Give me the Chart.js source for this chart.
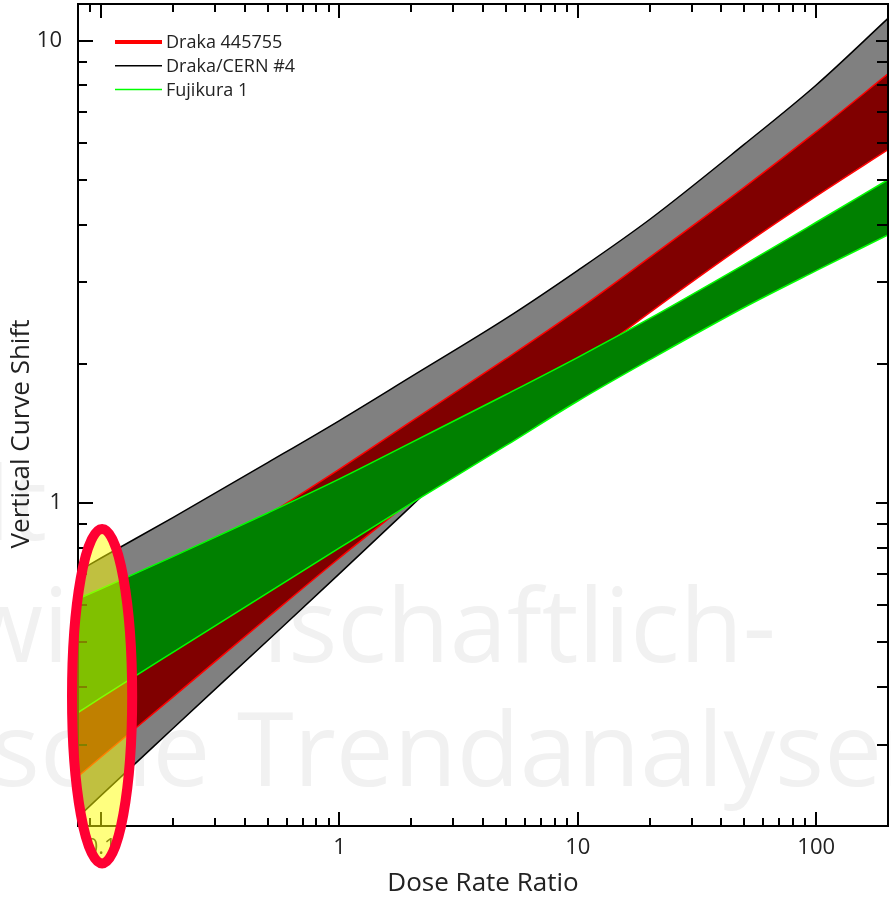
<!DOCTYPE html>
<html>
<head>
<meta charset="utf-8">
<script src="https://cdn.jsdelivr.net/npm/chart.js@4/dist/chart.umd.min.js"></script>
<style>
  html, body { margin: 0; padding: 0; background: #fff; overflow: hidden; }
  #wrap { width: 891px; height: 898px; }
</style>
</head>
<body>
<div id="wrap"><canvas id="c" width="891" height="898"></canvas></div>
<script>
// Dose rate ratio sample points (x axis)
const doseRatio = [0.08, 0.1, 0.2, 0.5, 1, 2, 5, 10, 20, 50, 100, 200];

// Draka/CERN #4 band
const cernUpper = [0.711, 0.760, 0.929, 1.222, 1.507, 1.875, 2.506, 3.184, 4.102, 5.970, 8.017, 11.17];
const cernLower = [0.209, 0.233, 0.325, 0.504, 0.703, 0.984, 1.55, 2.16, 2.95, 4.18, 5.42, 7.05];

// Draka 445755 band
const drakaUpper = [0.528, 0.566, 0.702, 0.941, 1.183, 1.50, 2.051, 2.618, 3.396, 4.819, 6.353, 8.472];
const drakaLower = [0.256, 0.282, 0.380, 0.565, 0.760, 1.012, 1.492, 1.975, 2.58, 3.62, 4.61, 5.81];

// Fujikura 1 band
const fujiUpper = [0.620, 0.652, 0.765, 0.951, 1.127, 1.350, 1.716, 2.065, 2.506, 3.281, 4.046, 5.000];
const fujiLower = [0.352, 0.379, 0.475, 0.639, 0.799, 0.998, 1.331, 1.661, 2.04, 2.65, 3.18, 3.80];

// Axis ticks
const xLabelTicks = [0.1, 1, 10, 100];
const xMinorTicks = [0.09, 0.2, 0.3, 0.4, 0.5, 0.6, 0.7, 0.8, 0.9, 2, 3, 4, 5, 6, 7, 8, 9,
                     20, 30, 40, 50, 60, 70, 80, 90];
const yLabelTicks = [1, 10];
const yMinorTicks = [0.3, 0.4, 0.5, 0.6, 0.7, 0.8, 0.9, 2, 3, 4, 5, 6, 7, 8, 9];

const seriesNames = ['Draka 445755', 'Draka/CERN #4', 'Fujikura 1'];

const FONT = '"Open Sans", "Noto Sans", sans-serif';
const TEXT = '#222222';

function pts(ys) { return doseRatio.map((x, i) => ({ x: x, y: ys[i] })); }

function band(label, upper, lower, fillColor, edgeColor, orderBase) {
  return [
    { label: label, data: pts(upper), fill: '+1', backgroundColor: fillColor,
      borderColor: edgeColor, borderWidth: 1.5, pointRadius: 0,
      cubicInterpolationMode: 'monotone', order: orderBase + 1 },
    { label: label, data: pts(lower), fill: false,
      borderColor: edgeColor, borderWidth: 1.5, pointRadius: 0,
      cubicInterpolationMode: 'monotone', order: orderBase }
  ];
}

// faint background lettering
const backdropPlugin = {
  id: 'backdrop',
  beforeDraw(chart) {
    const ctx = chart.ctx;
    ctx.save();
    ctx.fillStyle = '#f1f1f1';
    ctx.font = '103px ' + FONT;
    ctx.textBaseline = 'alphabetic';
    ctx.textAlign = 'right';
    ctx.fillText('Welt', 47, 540);
    ctx.fillText('wissenschaftlich-', 776, 662);
    ctx.textAlign = 'left';
    const lead = ctx.measureText('technische ').width;
    ctx.fillText('technische Trendanalysen', 237 - lead, 786);
    ctx.restore();
  }
};

// framed axes with inward tick marks, legend and axis titles
const framePlugin = {
  id: 'frame',
  afterDatasetsDraw(chart) {
    const { ctx, chartArea: a, scales: { x, y } } = chart;
    ctx.save();
    ctx.strokeStyle = '#000';
    ctx.lineWidth = 2;
    ctx.strokeRect(a.left, a.top, a.right - a.left, a.bottom - a.top);

    const tick = (x1, y1, x2, y2) => { ctx.beginPath(); ctx.moveTo(x1, y1); ctx.lineTo(x2, y2); ctx.stroke(); };
    xLabelTicks.forEach(v => {
      const p = Math.round(x.getPixelForValue(v));
      tick(p, a.bottom, p, a.bottom - 14);
      tick(p, a.top, p, a.top + 14);
    });
    xMinorTicks.forEach(v => {
      const p = Math.round(x.getPixelForValue(v));
      tick(p, a.bottom, p, a.bottom - 8);
      tick(p, a.top, p, a.top + 8);
    });
    yLabelTicks.forEach(v => {
      const p = Math.round(y.getPixelForValue(v));
      tick(a.left, p, a.left + 15, p);
      tick(a.right, p, a.right - 12, p);
    });
    yMinorTicks.forEach(v => {
      const p = Math.round(y.getPixelForValue(v));
      tick(a.left, p, a.left + 9, p);
      tick(a.right, p, a.right - 11, p);
    });

    // legend
    const rows = [
      { name: seriesNames[0], color: '#ff0000', width: 4 },
      { name: seriesNames[1], color: '#000000', width: 1.5 },
      { name: seriesNames[2], color: '#00ff00', width: 1.5 }
    ];
    ctx.font = '18px ' + FONT;
    ctx.textBaseline = 'middle';
    ctx.textAlign = 'left';
    rows.forEach((r, i) => {
      const ry = 42 + i * 23.7;
      ctx.strokeStyle = r.color;
      ctx.lineWidth = r.width;
      tick(115, ry, 162, ry);
      ctx.fillStyle = TEXT;
      ctx.fillText(r.name, 166, ry + 1);
    });

    // axis titles
    ctx.fillStyle = TEXT;
    ctx.font = '26px ' + FONT;
    ctx.textAlign = 'center';
    ctx.textBaseline = 'middle';
    ctx.fillText('Dose Rate Ratio', (a.left + a.right) / 2, 884);
    ctx.translate(22, 434);
    ctx.rotate(-Math.PI / 2);
    ctx.fillText('Vertical Curve Shift', 0, 0);
    ctx.restore();
  }
};

// highlighted low dose-rate region
const highlightX = [0.0755, 0.135];
const highlightY = [0.166, 0.878];
const highlightPlugin = {
  id: 'highlight',
  afterDraw(chart) {
    const { ctx, scales: { x, y } } = chart;
    const x1 = x.getPixelForValue(highlightX[0]), x2 = x.getPixelForValue(highlightX[1]);
    const y1 = y.getPixelForValue(highlightY[1]), y2 = y.getPixelForValue(highlightY[0]);
    ctx.save();
    ctx.beginPath();
    ctx.ellipse((x1 + x2) / 2, (y1 + y2) / 2, (x2 - x1) / 2, (y2 - y1) / 2, 0, 0, Math.PI * 2);
    ctx.fillStyle = 'rgba(255, 255, 0, 0.5)';
    ctx.fill();
    ctx.lineWidth = 10;
    ctx.strokeStyle = '#ff0033';
    ctx.stroke();
    ctx.restore();
  }
};

const noEdgePadding = s => { s.paddingTop = 0; s.paddingBottom = 0; s.paddingLeft = 0; s.paddingRight = 0; };

new Chart(document.getElementById('c'), {
  type: 'line',
  data: {
    datasets: [
      ...band(seriesNames[2], fujiUpper, fujiLower, '#008000', '#00ff00', 0),
      ...band(seriesNames[0], drakaUpper, drakaLower, '#800000', '#ff0000', 2),
      ...band(seriesNames[1], cernUpper, cernLower, '#808080', '#000000', 4)
    ]
  },
  options: {
    responsive: false,
    animation: false,
    layout: { padding: { top: 4, right: 3, left: 0, bottom: 0 } },
    plugins: { legend: { display: false }, tooltip: { enabled: false } },
    scales: {
      x: {
        type: 'logarithmic', min: 0.08, max: 200,
        grid: { display: false, drawTicks: false },
        border: { display: false },
        afterBuildTicks: s => { s.ticks = xLabelTicks.map(v => ({ value: v })); },
        afterFit: s => { s.height = 72; noEdgePadding(s); },
        ticks: { callback: v => String(v), color: TEXT, font: { family: FONT, size: 22 }, padding: 9, maxRotation: 0, autoSkip: false }
      },
      y: {
        type: 'logarithmic', min: 0.2, max: 12,
        grid: { display: false, drawTicks: false },
        border: { display: false },
        afterBuildTicks: s => { s.ticks = yLabelTicks.map(v => ({ value: v })); },
        afterFit: s => { s.width = 78; noEdgePadding(s); },
        ticks: { callback: v => String(v), color: TEXT, font: { family: FONT, size: 22 }, padding: 16, autoSkip: false }
      }
    }
  },
  plugins: [backdropPlugin, framePlugin, highlightPlugin]
});
</script>
</body>
</html>
